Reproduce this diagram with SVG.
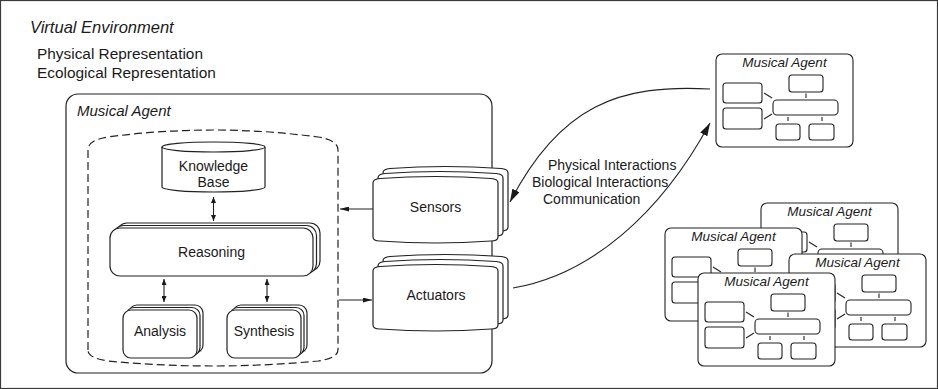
<svg xmlns="http://www.w3.org/2000/svg" xmlns:xlink="http://www.w3.org/1999/xlink" width="938" height="389" viewBox="0 0 938 389">
<style>
.t{font-family:"Liberation Sans",Arial,sans-serif;fill:#1a1a1a}
.i{font-style:italic}
.s{fill:#fff;stroke:#222;stroke-width:1.2}
.ln{fill:none;stroke:#222;stroke-width:1.1}
.mini{fill:#fff;stroke:#222;stroke-width:1.1}
</style>
<defs>
<marker id="sm" viewBox="0 0 10 10" refX="10" refY="5" markerWidth="6" markerHeight="5" preserveAspectRatio="none" orient="auto-start-reverse" markerUnits="userSpaceOnUse"><path d="M0,0 L10,5 L0,10 z" fill="#1a1a1a"/></marker>
<marker id="md" viewBox="0 0 10 10" refX="10" refY="5" markerWidth="9" markerHeight="5" preserveAspectRatio="none" orient="auto" markerUnits="userSpaceOnUse"><path d="M0,0 L10,5 L0,10 z" fill="#1a1a1a"/></marker>
<marker id="lg" viewBox="0 0 10 10" refX="10" refY="5" markerWidth="13" markerHeight="8" preserveAspectRatio="none" orient="auto" markerUnits="userSpaceOnUse"><path d="M0,0 L10,5 L0,10 z" fill="#1a1a1a"/></marker>
<path id="pill" d="M0,61 L0,7 Q0,3 7,2.5 Q62.5,-1.5 118,2.5 Q125,3 125,7 L125,61 Q125,65 118,65 Q62.5,69 7,65 Q0,65 0,61 Z"/>
<g id="mini">
<rect class="mini" x="0" y="0" width="137" height="93" rx="6"/>
<rect class="mini" x="7" y="29" width="39" height="20" rx="3"/>
<rect class="mini" x="7" y="54" width="39" height="21" rx="3"/>
<rect class="mini" x="73" y="21" width="34" height="17" rx="3"/>
<rect class="mini" x="57" y="46" width="65" height="15" rx="4"/>
<rect class="mini" x="60" y="70" width="24" height="16" rx="3"/>
<rect class="mini" x="93" y="70" width="25" height="16" rx="3"/>
<path class="ln" d="M48,39 L56,44 M48,65 L56,60 M90,39.5 V44 M72,63 V67 M106,63 V67"/>
</g>
</defs>

<rect x="0.5" y="0.5" width="937" height="388" fill="#fff" stroke="#3a3a3a" stroke-width="1.2"/>

<g id="environment">
<text class="t i" x="30" y="33" font-size="16.5">Virtual Environment</text>
<text class="t" x="37" y="59" font-size="15.4">Physical Representation</text>
<text class="t" x="37" y="78" font-size="15.4">Ecological Representation</text>
</g>

<g id="musical-agent">
<rect class="s" x="66" y="94" width="426" height="279" rx="12"/>
<text class="t i" x="77" y="116" font-size="15">Musical Agent</text>
</g>

<g id="mind">
<path d="M88,350 L88,150 Q88,140 108,137 Q213,123 318,137 Q338,140 338,150 L338,350 Q338,358 318,361 Q213,371 108,361 Q88,358 88,350 Z" fill="none" stroke="#222" stroke-width="1.2" stroke-dasharray="8,4"/>
</g>

<g id="knowledge-base">
<path class="s" d="M162,147 L162,187 A51.5,5 0 0 0 265,187 L265,147"/>
<ellipse class="s" cx="213.5" cy="147" rx="51.5" ry="5"/>
<text class="t" x="213.5" y="171" font-size="14">
<tspan x="213.5" text-anchor="middle">Knowledge</tspan></text>
<text class="t" x="213.5" y="187" font-size="14" text-anchor="middle">Base</text>
</g>

<g id="reasoning">
<rect class="s" x="117" y="223" width="203" height="48" rx="10"/>
<rect class="s" x="113.5" y="225.5" width="203" height="48" rx="10"/>
<rect class="s" x="110" y="228" width="203" height="48" rx="10"/>
<text class="t" x="211.5" y="257" font-size="14" text-anchor="middle">Reasoning</text>
</g>

<g id="analysis">
<rect class="s" x="129" y="305" width="74" height="48" rx="8"/>
<rect class="s" x="126" y="307.5" width="74" height="48" rx="8"/>
<rect class="s" x="123" y="310" width="74" height="48" rx="8"/>
<text class="t" x="160" y="336" font-size="14" text-anchor="middle">Analysis</text>
</g>

<g id="synthesis">
<rect class="s" x="233" y="305" width="74" height="48" rx="8"/>
<rect class="s" x="230" y="307.5" width="74" height="48" rx="8"/>
<rect class="s" x="227" y="310" width="74" height="48" rx="8"/>
<text class="t" x="264" y="336" font-size="14" text-anchor="middle">Synthesis</text>
</g>

<g id="sensors">
<use xlink:href="#pill" href="#pill" class="s" x="383" y="166"/>
<use xlink:href="#pill" href="#pill" class="s" x="378" y="171"/>
<use xlink:href="#pill" href="#pill" class="s" x="373" y="176"/>
<text class="t" x="435.5" y="212" font-size="14" text-anchor="middle">Sensors</text>
</g>

<g id="actuators">
<use xlink:href="#pill" href="#pill" class="s" x="383" y="254"/>
<use xlink:href="#pill" href="#pill" class="s" x="378" y="259"/>
<use xlink:href="#pill" href="#pill" class="s" x="373" y="264"/>
<text class="t" x="436" y="300" font-size="14" text-anchor="middle">Actuators</text>
</g>

<g id="connectors">
<line class="ln" x1="213.5" y1="197" x2="213.5" y2="221" marker-start="url(#sm)" marker-end="url(#sm)"/>
<line class="ln" x1="164" y1="279" x2="164" y2="302" marker-start="url(#sm)" marker-end="url(#sm)"/>
<line class="ln" x1="267" y1="279" x2="267" y2="302" marker-start="url(#sm)" marker-end="url(#sm)"/>
<line class="ln" x1="373" y1="209" x2="340" y2="209" marker-end="url(#md)"/>
<line class="ln" x1="339" y1="300" x2="372" y2="300" marker-end="url(#md)"/>
<path class="ln" d="M513,288 C590,275 660,215 710,123" marker-end="url(#lg)"/>
<path class="ln" d="M710,89 C620,84 560,105 510,202" marker-end="url(#lg)"/>
</g>

<g id="interaction-labels">
<text class="t" x="548" y="170" font-size="14">Physical Interactions</text>
<text class="t" x="532" y="187" font-size="14">Biological Interactions</text>
<text class="t" x="543" y="204" font-size="14">Communication</text>
</g>

<g id="agent-top">
<use xlink:href="#mini" href="#mini" x="716" y="54"/>
<text class="t i" x="784.5" y="67" font-size="13.5" text-anchor="middle">Musical Agent</text>
</g>

<g id="agent-b1">
<use xlink:href="#mini" href="#mini" x="761" y="203"/>
<text class="t i" x="829.5" y="216" font-size="13.5" text-anchor="middle">Musical Agent</text>
</g>

<g id="agent-b2">
<use xlink:href="#mini" href="#mini" x="665" y="228"/>
<text class="t i" x="733.5" y="241" font-size="13.5" text-anchor="middle">Musical Agent</text>
</g>

<g id="agent-b3">
<use xlink:href="#mini" href="#mini" x="789" y="254"/>
<text class="t i" x="857.5" y="267" font-size="13.5" text-anchor="middle">Musical Agent</text>
</g>

<g id="agent-b4">
<use xlink:href="#mini" href="#mini" x="698" y="273"/>
<text class="t i" x="766.5" y="286" font-size="13.5" text-anchor="middle">Musical Agent</text>
</g>
</svg>
